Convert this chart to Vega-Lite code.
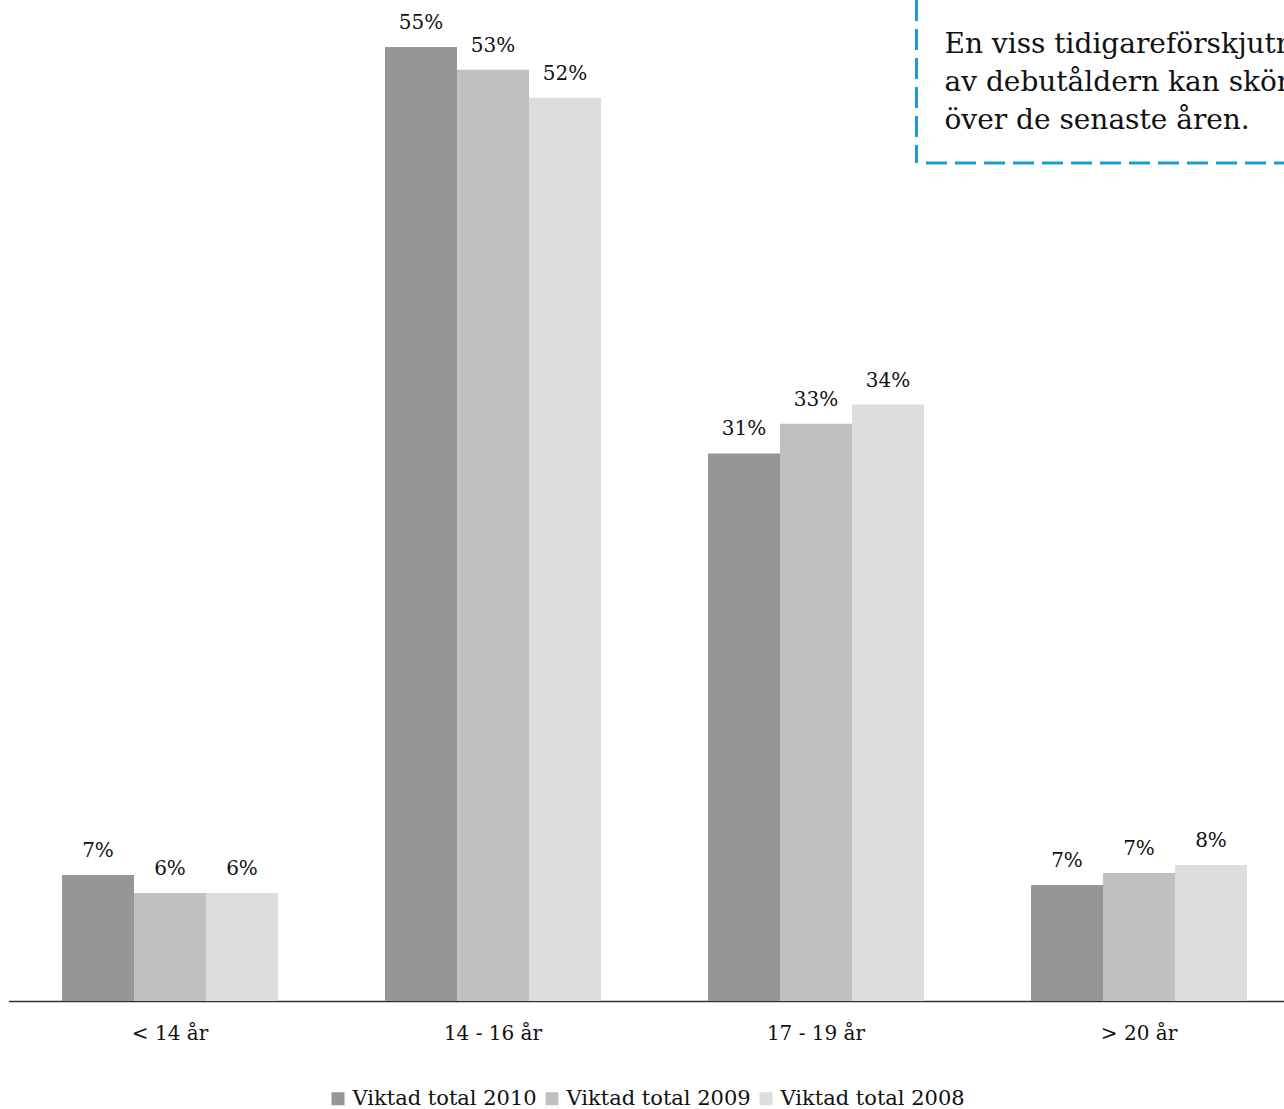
{
  "$schema": "https://vega.github.io/schema/vega-lite/v6.json",
  "width": 1275,
  "height": 1001,
  "autosize": {"type": "none"},
  "padding": {"left": 8.5, "top": 0, "right": 0, "bottom": 108},
  "background": "white",
  "config": {
    "view": {"stroke": null},
    "font": "DejaVu Serif",
    "legend": {"layout": {"bottom": {"anchor": "middle"}}}
  },
  "layer": [
    {
      "data": {"values": [
        {"age": "< 14 år", "series": "Viktad total 2010", "value": 0.0722},
        {"age": "< 14 år", "series": "Viktad total 2009", "value": 0.0619},
        {"age": "< 14 år", "series": "Viktad total 2008", "value": 0.0619},
        {"age": "14 - 16 år", "series": "Viktad total 2010", "value": 0.547},
        {"age": "14 - 16 år", "series": "Viktad total 2009", "value": 0.534},
        {"age": "14 - 16 år", "series": "Viktad total 2008", "value": 0.518},
        {"age": "17 - 19 år", "series": "Viktad total 2010", "value": 0.314},
        {"age": "17 - 19 år", "series": "Viktad total 2009", "value": 0.331},
        {"age": "17 - 19 år", "series": "Viktad total 2008", "value": 0.342},
        {"age": "> 20 år", "series": "Viktad total 2010", "value": 0.0665},
        {"age": "> 20 år", "series": "Viktad total 2009", "value": 0.0734},
        {"age": "> 20 år", "series": "Viktad total 2008", "value": 0.078}
      ]},
      "encoding": {
        "x": {
          "field": "age", "type": "nominal",
          "sort": ["< 14 år", "14 - 16 år", "17 - 19 år", "> 20 år"],
          "scale": {"domain": ["< 14 år", "14 - 16 år", "17 - 19 år", "> 20 år"], "range": [0, 1292], "paddingInner": 0, "paddingOuter": 0},
          "title": null,
          "axis": {
            "domain": true, "domainColor": "#333333", "domainWidth": 1.5,
            "ticks": false, "grid": false, "labelAngle": 0,
            "labelPadding": 22, "labelFontSize": 20, "labelColor": "#111111",
            "labelFont": "DejaVu Serif"
          }
        },
        "xOffset": {
          "field": "series", "type": "nominal",
          "sort": ["Viktad total 2010", "Viktad total 2009", "Viktad total 2008"],
          "scale": {"paddingOuter": 0.743, "paddingInner": 0}
        },
        "y": {
          "field": "value", "type": "quantitative",
          "scale": {"domain": [0, 0.574], "nice": false, "zero": true},
          "axis": null
        }
      },
      "layer": [
        {
          "mark": {"type": "bar"},
          "encoding": {
            "color": {
              "field": "series", "type": "nominal",
              "sort": ["Viktad total 2010", "Viktad total 2009", "Viktad total 2008"],
              "scale": {
                "domain": ["Viktad total 2010", "Viktad total 2009", "Viktad total 2008"],
                "range": ["#969696", "#c0c0c0", "#dddddd"]
              },
              "legend": {
                "title": null, "orient": "bottom", "direction": "horizontal",
                "offset": 45, "symbolType": "square", "symbolSize": 169,
                "symbolStrokeWidth": 0, "labelFontSize": 21, "labelColor": "#111111",
                "labelFont": "DejaVu Serif", "columnPadding": 4, "labelOffset": 4,
                "labelLimit": 400
              }
            }
          }
        },
        {
          "mark": {"type": "text", "baseline": "alphabetic", "dy": -18, "fontSize": 20, "color": "#111111", "font": "DejaVu Serif"},
          "encoding": {
            "text": {"field": "value", "type": "quantitative", "format": ".0%"}
          }
        }
      ]
    },
    {
      "data": {"values": [
        {"age": "17 - 19 år", "y": 0.5436, "note": "En viss tidigareförskjutning\nav debutåldern kan skönjas\növer de senaste åren."}
      ]},
      "mark": {"type": "text", "align": "left", "baseline": "alphabetic", "dx": -33, "fontSize": 28, "lineHeight": 38, "lineBreak": "\n", "color": "#111111", "font": "DejaVu Serif"},
      "encoding": {
        "x": {"field": "age", "type": "nominal", "bandPosition": 1},
        "y": {"field": "y", "type": "quantitative"},
        "text": {"field": "note"}
      }
    },
    {
      "data": {"values": [
        {"age": "17 - 19 år", "ytop": 0.574, "ybot": 0.4805}
      ]},
      "mark": {"type": "rule", "color": "#1a9cd8", "strokeWidth": 3, "strokeDash": [21, 8], "xOffset": -61},
      "encoding": {
        "x": {"field": "age", "type": "nominal", "bandPosition": 1},
        "y": {"field": "ytop", "type": "quantitative"},
        "y2": {"field": "ybot"}
      }
    },
    {
      "data": {"values": [
        {"age": "17 - 19 år", "age2": "> 20 år", "y": 0.4805}
      ]},
      "mark": {"type": "rule", "color": "#1a9cd8", "strokeWidth": 3, "strokeDash": [21, 8], "xOffset": -51.5, "x2Offset": 300},
      "encoding": {
        "x": {"field": "age", "type": "nominal", "bandPosition": 1},
        "x2": {"field": "age2"},
        "y": {"field": "y", "type": "quantitative"}
      }
    }
  ]
}
